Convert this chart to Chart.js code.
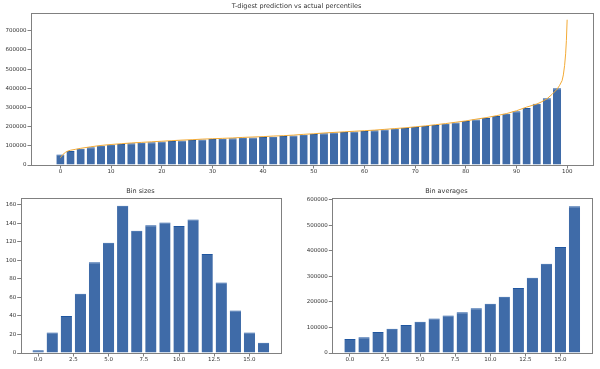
<!DOCTYPE html>
<html>
<head>
<meta charset="utf-8">
<script src="https://cdn.jsdelivr.net/npm/chart.js@4"></script>
<style>
  html, body { margin: 0; padding: 0; background: #fff; }
  body { width: 600px; height: 369px; position: relative; overflow: hidden; }
  .box { position: absolute; }
</style>
</head>
<body>
<div class="box" style="left:0;top:0;width:600px;height:185px"><canvas id="topChart"></canvas></div>
<div class="box" style="left:0;top:185px;width:290px;height:184px"><canvas id="sizesChart"></canvas></div>
<div class="box" style="left:300px;top:185px;width:300px;height:184px"><canvas id="avgChart"></canvas></div>
<script>
// --- data ---
const percentilePositions = [0, 2, 4, 6, 8, 10, 12, 14, 16, 18, 20, 22, 24, 26, 28, 30, 32, 34, 36, 38,
  40, 42, 44, 46, 48, 50, 52, 54, 56, 58, 60, 62, 64, 66, 68, 70, 72, 74, 76, 78,
  80, 82, 84, 86, 88, 90, 92, 94, 96, 98];
const actualPercentiles = [55000, 73000, 85000, 93000, 100000, 105000, 109000, 113000, 116000, 119000,
  122000, 125000, 128000, 130000, 133000, 135000, 137000, 139000, 142000, 144000,
  146000, 148000, 151000, 154000, 158000, 162000, 166000, 169000, 172000, 175000,
  178000, 181000, 185000, 189000, 193000, 198000, 203000, 209000, 215000, 222000,
  229000, 238000, 245000, 256000, 268000, 281000, 297000, 320000, 348000, 401000];

const predictionX = [0, 0.5, 1, 1.5, 2, 3, 4, 6, 8, 10, 12, 14, 16, 18, 20, 22, 24, 26, 28, 30,
  32, 34, 36, 38, 40, 42, 44, 46, 48, 50, 52, 54, 56, 58, 60, 62, 64, 66, 68, 70,
  72, 74, 76, 78, 80, 82, 84, 86, 88, 90, 92, 94, 95, 96, 97, 98, 98.5, 99, 99.25, 99.5,
  99.7, 99.85, 100];
const predictionValues = [38000, 55000, 66000, 73000, 77000, 82000, 87000, 95000, 102000, 107000,
  111000, 115000, 118000, 121000, 124000, 127000, 130000, 132000, 135000, 137000,
  139000, 141000, 144000, 146000, 148000, 151000, 153000, 156000, 160000, 163000,
  167000, 170000, 173000, 176000, 179000, 182000, 186000, 190000, 194000, 199000,
  204000, 210000, 216000, 223000, 230000, 239000, 247000, 257000, 268000, 283000,
  302000, 318000, 330000, 345000, 368000, 395000, 415000, 440000, 470000, 520000,
  580000, 650000, 758000];

const binIndex = [0, 1, 2, 3, 4, 5, 6, 7, 8, 9, 10, 11, 12, 13, 14, 15, 16];
const binSizes = [3, 22, 40, 64, 98, 119, 159, 132, 138, 141, 137, 144, 107, 76, 46, 22, 11];
const binAverages = [55000, 62000, 82000, 95000, 110000, 122000, 135000, 147000, 160000, 175000,
  193000, 220000, 255000, 295000, 350000, 415000, 575000];

// tick labels
const topYTicks = [0, 100000, 200000, 300000, 400000, 500000, 600000, 700000];
const topXTicks = [0, 10, 20, 30, 40, 50, 60, 70, 80, 90, 100];
const sizesYTicks = [0, 20, 40, 60, 80, 100, 120, 140, 160];
const avgYTicks = [0, 100000, 200000, 300000, 400000, 500000, 600000];
const binXTicks = [0, 2.5, 5, 7.5, 10, 12.5, 15];

// --- styling helpers ---
const FONT = "'DejaVu Sans', sans-serif";
const TEXT = '#333';
const SPINE = '#808080';
const BAR_FILL = '#3f6ba8';
const BAR_TOP = '#1f56a0';

// draws the four spines around the plot area
const framePlugin = {
  id: 'frame',
  afterDraw(chart) {
    const { ctx, chartArea: a } = chart;
    ctx.save();
    ctx.strokeStyle = SPINE;
    ctx.lineWidth = 1;
    ctx.strokeRect(Math.round(a.left) + 0.5, Math.round(a.top) + 0.5,
      Math.round(a.right - a.left), Math.round(a.bottom - a.top));
    ctx.restore();
  }
};

function fixedSize(prop, size) {
  return scale => {
    scale[prop] = size;
    scale.paddingTop = 0; scale.paddingBottom = 0;
    scale.paddingLeft = 0; scale.paddingRight = 0;
  };
}

function axis(min, max, tickValues, fmt, sizeProp, size) {
  return {
    type: 'linear', min, max, offset: false,
    border: { display: false },
    grid: { display: true, offset: false, drawOnChartArea: false, drawTicks: true, tickLength: 3.5, color: SPINE },
    ticks: { maxRotation: 0, autoSkip: false, padding: sizeProp === 'height' ? 0 : 1,
      color: TEXT, font: { family: FONT, size: 5.5 }, callback: fmt },
    afterBuildTicks: scale => { scale.ticks = tickValues.map(value => ({ value })); },
    afterFit: fixedSize(sizeProp, size)
  };
}

function titleOpts(text, top, bottom) {
  return { display: true, text, color: TEXT, font: { family: FONT, size: 6.5, weight: 'normal' },
    padding: { top, bottom } };
}

function barDataset(xs, ys, order) {
  return {
    type: 'bar',
    data: xs.map((x, i) => ({ x, y: ys[i] })),
    backgroundColor: BAR_FILL,
    borderColor: BAR_TOP,
    borderWidth: { top: 1, left: 0, right: 0, bottom: 0 },
    borderSkipped: 'bottom',
    categoryPercentage: 1,
    barPercentage: 0.8,
    order
  };
}

const common = {
  responsive: true, maintainAspectRatio: false, animation: false,
  events: []
};

const plain = v => String(v);
const fmtHalf = v => v.toFixed(1);

// --- top chart: T-digest prediction vs actual percentiles ---
new Chart(document.getElementById('topChart'), {
  type: 'bar',
  data: {
    datasets: [
      {
        type: 'line',
        data: predictionX.map((x, i) => ({ x, y: predictionValues[i] })),
        borderColor: '#f3aa35', borderWidth: 1, pointRadius: 0, tension: 0, fill: false,
        order: 0
      },
      barDataset(percentilePositions, actualPercentiles, 1)
    ]
  },
  options: {
    ...common,
    layout: { padding: { left: 0, right: 7, top: 0, bottom: 0 } },
    plugins: {
      legend: { display: false }, tooltip: { enabled: false },
      title: titleOpts('T-digest prediction vs actual percentiles', 2.6, 2.6)
    },
    scales: {
      x: axis(-5.8, 105.1, topXTicks, plain, 'height', 20),
      y: axis(0, 793000, topYTicks, plain, 'width', 31)
    }
  },
  plugins: [framePlugin]
});

// --- bottom left: Bin sizes ---
new Chart(document.getElementById('sizesChart'), {
  type: 'bar',
  data: { datasets: [barDataset(binIndex, binSizes, 0)] },
  options: {
    ...common,
    layout: { padding: { left: 0, right: 9, top: 0, bottom: 0 } },
    plugins: {
      legend: { display: false }, tooltip: { enabled: false },
      title: titleOpts('Bin sizes', 2.9, 2.6)
    },
    scales: {
      x: axis(-1.24, 17.24, binXTicks, fmtHalf, 'height', 16),
      y: axis(0, 167, sizesYTicks, plain, 'width', 20.7)
    }
  },
  plugins: [framePlugin]
});

// --- bottom right: Bin averages ---
new Chart(document.getElementById('avgChart'), {
  type: 'bar',
  data: { datasets: [barDataset(binIndex, binAverages, 0)] },
  options: {
    ...common,
    layout: { padding: { left: 0, right: 7.3, top: 0, bottom: 0 } },
    plugins: {
      legend: { display: false }, tooltip: { enabled: false },
      title: titleOpts('Bin averages', 2.9, 2.6)
    },
    scales: {
      x: axis(-1.26, 17.3, binXTicks, fmtHalf, 'height', 16),
      y: axis(0, 606000, avgYTicks, plain, 'width', 32.3)
    }
  },
  plugins: [framePlugin]
});
</script>
</body>
</html>
